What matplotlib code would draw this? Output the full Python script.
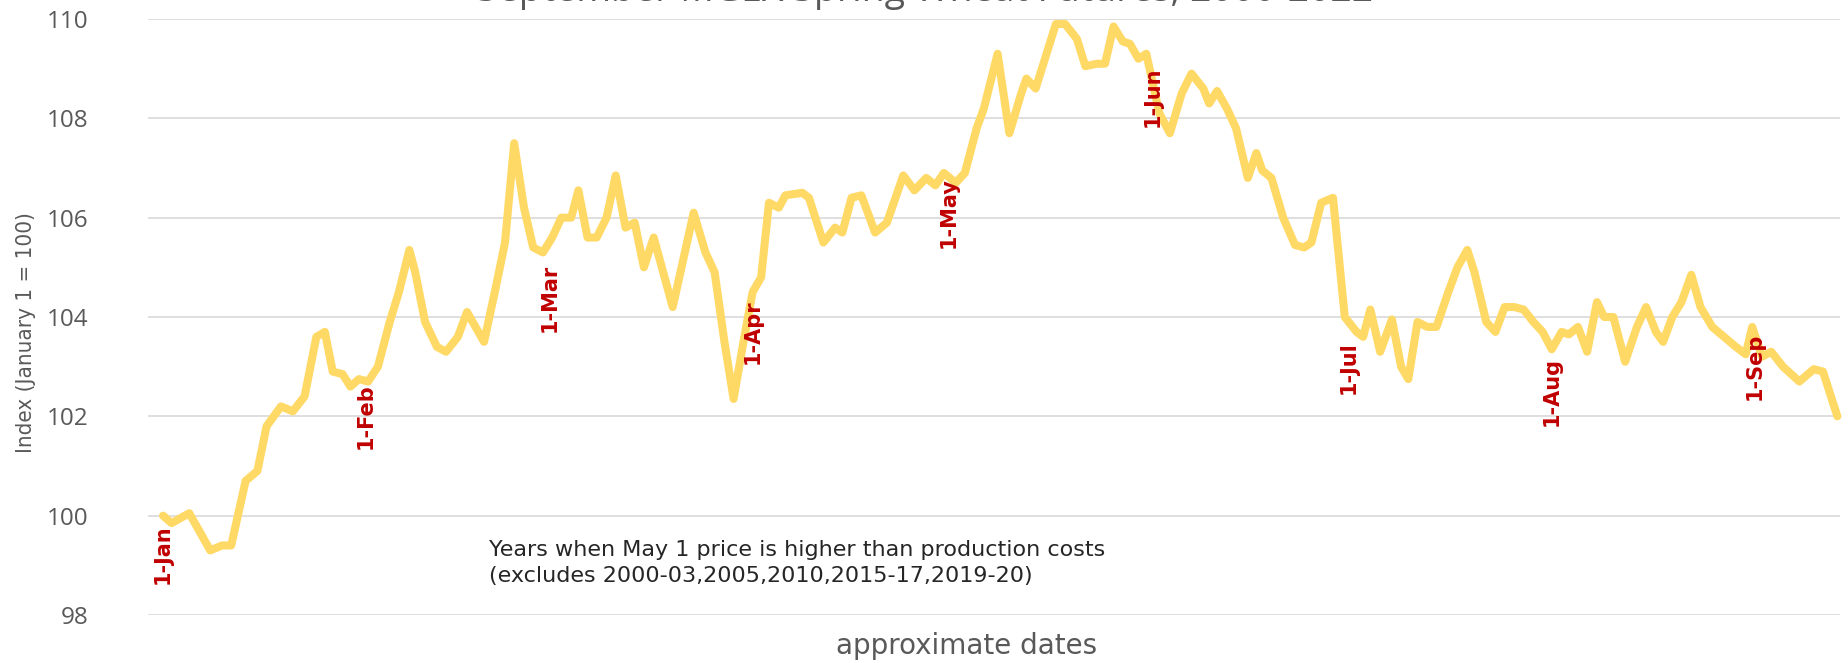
import matplotlib
matplotlib.use("Agg")
import matplotlib.pyplot as plt

# ---- data (approximate day offset from Jan 1, index value) ----
days = [0, 1.3, 4.0, 7.2, 9.0, 10.4, 12.6, 14.4, 15.8, 18.0, 19.8, 21.6, 23.4, 24.7,
        25.9, 27.4, 28.6, 29.9, 31.3, 32.8, 34.6, 36.0, 37.6, 38.5, 40.0, 41.8, 43.2,
        45.0, 46.4, 49.0, 50.8, 52.2, 53.6, 55.1, 56.5, 58.0, 59.4, 60.8, 62.3, 63.4,
        64.8, 66.2, 67.7, 69.1, 70.6, 72.0, 73.4, 74.9, 77.8, 81.0, 82.8, 84.2, 85.7,
        87.1, 88.6, 90.0, 91.3, 92.5, 94.0, 95.0, 97.6, 98.6, 100.8, 102.6, 103.7,
        105.1, 106.6, 108.7, 110.5, 113.0, 114.7, 116.5, 117.9, 119.2, 121.0, 122.4,
        124.2, 125.3, 127.4, 129.2, 131.0, 131.8, 133.2, 136.3, 137.7, 139.5, 140.8,
        142.6, 143.8, 145.1, 146.5, 147.6, 148.9, 150.1, 152.1, 153.7, 155.5, 157.0,
        158.8, 159.7, 160.9, 162.4, 163.8, 165.6, 166.9, 167.8, 169.2, 171.0, 172.8,
        174.2, 175.3, 176.8, 178.6, 180.4, 182.2, 183.2, 184.3, 185.8, 187.6, 189.0,
        190.1, 191.5, 193.0, 194.4, 196.2, 197.6, 199.1, 200.2, 202.0, 203.4, 204.8,
        206.3, 207.7, 209.2, 210.6, 212.0, 213.5, 214.6, 216.0, 217.4, 218.9, 220.0,
        221.4, 223.2, 225.0, 226.4, 227.9, 229.0, 230.4, 231.8, 233.3, 234.7, 236.5,
        238.3, 240.1, 241.6, 242.6, 244.1, 245.5, 247.3, 249.8, 252.0, 253.4, 255.6]
index_values = [100.0, 99.85, 100.05, 99.3, 99.4, 99.4, 100.7, 100.9, 101.8, 102.2, 102.1,
                102.4, 103.6, 103.7, 102.9, 102.85, 102.6, 102.75, 102.7, 103.0, 103.9,
                104.5, 105.35, 104.9, 103.9, 103.4, 103.3, 103.6, 104.1, 103.5, 104.6,
                105.5, 107.5, 106.2, 105.4, 105.3, 105.6, 106.0, 106.0, 106.55, 105.6,
                105.6, 106.0, 106.85, 105.8, 105.9, 105.0, 105.6, 104.2, 106.1, 105.3,
                104.9, 103.5, 102.35, 103.5, 104.5, 104.8, 106.3, 106.2, 106.45, 106.5,
                106.4, 105.5, 105.8, 105.7, 106.4, 106.45, 105.7, 105.9, 106.85, 106.55,
                106.8, 106.65, 106.9, 106.7, 106.9, 107.8, 108.2, 109.3, 107.7, 108.5,
                108.8, 108.6, 109.9, 109.9, 109.6, 109.05, 109.1, 109.1, 109.85, 109.55,
                109.5, 109.2, 109.3, 108.1, 107.7, 108.5, 108.9, 108.6, 108.3, 108.55,
                108.2, 107.8, 106.8, 107.3, 106.95, 106.8, 106.0, 105.45, 105.4, 105.5,
                106.3, 106.4, 104.0, 103.7, 103.6, 104.15, 103.3, 103.95, 103.0, 102.75,
                103.9, 103.8, 103.8, 104.5, 105.0, 105.35, 104.9, 103.9, 103.7, 104.2,
                104.2, 104.15, 103.9, 103.7, 103.35, 103.7, 103.65, 103.8, 103.3, 104.3,
                104.0, 104.0, 103.1, 103.8, 104.2, 103.7, 103.5, 104.0, 104.3, 104.85,
                104.2, 103.8, 103.6, 103.4, 103.25, 103.8, 103.2, 103.3, 103.0, 102.7,
                102.95, 102.9, 102.0]

month_labels = ["1-Jan", "1-Feb", "1-Mar", "1-Apr", "1-May", "1-Jun", "1-Jul", "1-Aug", "1-Sep"]
month_days = [0, 31, 59, 90, 120, 151, 181, 212, 243]
month_label_levels = [99.23, 102.0, 104.38, 103.7, 106.11, 108.43, 102.99, 102.49, 103.01]

y_ticks = [98, 100, 102, 104, 106, 108, 110]

title = "September MGEX Spring Wheat Futures, 2000-2022"
note_lines = ["Years when May 1 price is higher than production costs",
              "(excludes 2000-03,2005,2010,2015-17,2019-20)"]

# ---- figure ----
W, H = 1849, 663
fig = plt.figure(figsize=(W / 100, H / 100), dpi=100)
ax_left, ax_right = 148, 1840
ax_top, ax_bottom = 19, 615
ax = fig.add_axes([ax_left / W, 1 - ax_bottom / H, (ax_right - ax_left) / W, (ax_bottom - ax_top) / H])

ax.set_ylim(98, 110)
ax.set_xlim(-2.3, 256.0)
ax.set_yticks(y_ticks)
ax.set_xticks([])
ax.yaxis.grid(True, color="#D9D9D9", linewidth=1.2)
ax.set_axisbelow(True)
for s in ax.spines.values():
    s.set_visible(False)
ax.tick_params(axis="y", length=0, pad=43, labelsize=17.5, labelcolor="#595959")
for lab in ax.get_yticklabels():
    lab.set_fontfamily(["Open Sans", "DejaVu Sans"])

ax.plot(days, index_values, color="#FFD966", linewidth=5.8, solid_joinstyle="round",
        solid_capstyle="round", clip_on=False, zorder=3)

for lab, d, lv in zip(month_labels, month_days, month_label_levels):
    ax.text(d, lv, lab, rotation=90, ha="center", va="center", color="#C00000",
            fontsize=15, fontweight="bold",
            family=["Liberation Sans Narrow", "DejaVu Sans"], zorder=4)

fig.text(26 / W, 1 - 333 / H, "Index (January 1 = 100)", rotation=90, ha="center",
         va="center", color="#595959", fontsize=16, fontstretch="condensed",
         family=["Liberation Sans Narrow", "DejaVu Sans"])
fig.text(967 / W, 1 - 646 / H, "approximate dates", ha="center", va="center",
         color="#595959", fontsize=20, family=["DejaVu Sans"])
fig.text(925 / W, 1 - 1 / H, title, ha="center", va="baseline", color="#595959",
         fontsize=27, family=["Open Sans", "DejaVu Sans"])
fig.text(489 / W, 1 - 550 / H, note_lines[0], ha="left", va="center", color="#262626",
         fontsize=16, family=["DejaVu Sans"])
fig.text(489 / W, 1 - 576 / H, note_lines[1], ha="left", va="center", color="#262626",
         fontsize=16, family=["DejaVu Sans"])

fig.savefig("out.png", dpi=100, facecolor="white")
